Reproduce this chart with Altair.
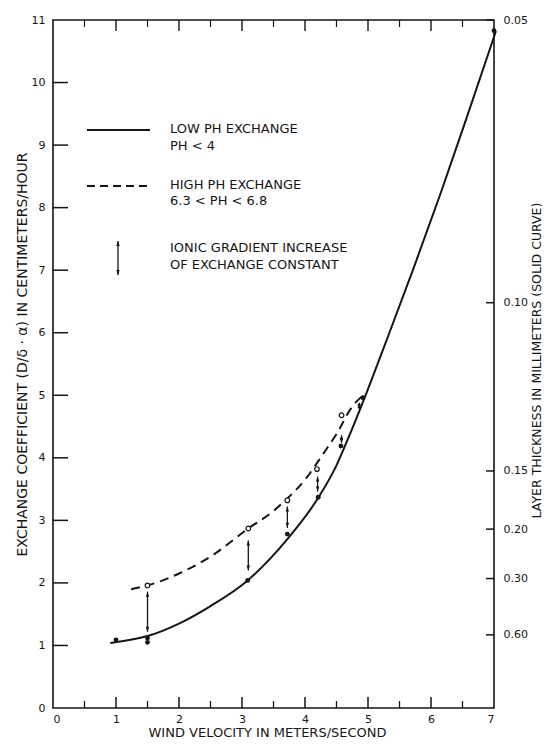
import altair as alt
import pandas as pd

# ---- data ----
# solid curve: low pH exchange
low_curve_x = [0.91, 1.5, 2.0, 2.5, 3.09, 3.72, 4.21, 4.5, 4.73, 5.0, 5.31, 5.73, 6.16, 6.58, 7.03]
low_curve_y = [1.04, 1.15, 1.35, 1.63, 2.04, 2.70, 3.36, 3.88, 4.42, 5.10, 5.92, 7.05, 8.25, 9.48, 10.82]
# filled points (low pH)
low_pts_x = [1.0, 1.5, 1.5, 3.09, 3.72, 4.21, 4.57, 4.92, 7.0]
low_pts_y = [1.09, 1.05, 1.12, 2.04, 2.78, 3.37, 4.19, 4.96, 10.83]
# dashed curve: high pH exchange
high_curve_x = [1.24, 1.5, 2.0, 2.5, 3.1, 3.5, 3.72, 4.0, 4.3, 4.5, 4.75, 4.9]
high_curve_y = [1.90, 1.96, 2.15, 2.42, 2.87, 3.15, 3.35, 3.65, 4.08, 4.38, 4.82, 4.98]
# open points (high pH)
high_pts_x = [1.5, 3.1, 3.72, 4.19, 4.58]
high_pts_y = [1.96, 2.87, 3.32, 3.82, 4.68]
# ionic gradient arrows
arrow_x = [1.5, 3.1, 3.72, 4.2, 4.58, 4.86]
arrow_top = [1.86, 2.68, 3.22, 3.70, 4.36, 4.88]
arrow_bot = [1.22, 2.20, 2.88, 3.46, 4.24, 4.78]

# axes
x_labels = [0, 1, 2, 3, 4, 5, 6, 7]
x_major = [1, 2, 3, 4, 5, 6]
x_minor = [0.5, 1.5, 2.5, 3.5, 4.5, 5.5, 6.5]
y_labels = [0, 1, 2, 3, 4, 5, 6, 7, 8, 9, 10, 11]
y_major = [1, 2, 3, 4, 5, 6, 7, 8, 9, 10]
right_pos = [11.0, 6.48, 3.79, 2.86, 2.07, 1.17]
right_text = ["0.05", "0.10", "0.15", "0.20", "0.30", "0.60"]

W, H = 441, 688
INK = "#151515"
FONT = "DejaVu Sans"

xs = alt.Scale(domain=[0, 7], nice=False, zero=False)
ys = alt.Scale(domain=[0, 11], nice=False, zero=False)

x_axis = alt.Axis(values=x_labels, ticks=False, domain=False, grid=False, labelPadding=5,
                  labelFont=FONT, labelFontSize=11, labelColor=INK,
                  title="WIND  VELOCITY  IN  METERS/SECOND", titleFont=FONT, titleFontSize=13,
                  titleFontWeight="normal", titleColor=INK, titleX=214, titleY=24,
                  titleAnchor="middle", titleAlign="center", titleBaseline="middle")
y_axis = alt.Axis(values=y_labels, ticks=False, domain=False, grid=False, labelPadding=8,
                  labelFont=FONT, labelFontSize=11, labelColor=INK,
                  title="EXCHANGE  COEFFICIENT  (D/δ · α)  IN  CENTIMETERS/HOUR",
                  titleFont=FONT, titleFontSize=14, titleFontWeight="normal", titleColor=INK,
                  titleAngle=270, titleX=-31, titleY=334, titleAlign="center",
                  titleBaseline="middle", titleAnchor="middle")

label_expr = " : ".join(f"datum.value == {p} ? '{t}'" for p, t in zip(right_pos, right_text)) + " : ''"
r_axis = alt.Axis(orient="right", values=right_pos, labelExpr=label_expr, ticks=False, domain=False,
                  grid=False, labelPadding=9, labelFont=FONT, labelFontSize=11, labelColor=INK,
                  title="LAYER  THICKNESS  IN  MILLIMETERS  (SOLID  CURVE)", titleFont=FONT,
                  titleFontSize=12.5, titleFontWeight="normal", titleColor=INK,
                  titleAngle=270, titleX=42, titleY=340, titleAlign="center",
                  titleBaseline="middle", titleAnchor="middle")

X = alt.X("x:Q", scale=xs, axis=x_axis)
Y = alt.Y("y:Q", scale=ys, axis=y_axis)

low_curve = pd.DataFrame({"x": low_curve_x, "y": low_curve_y})
high_curve = pd.DataFrame({"x": high_curve_x, "y": high_curve_y})
low_pts = pd.DataFrame({"x": low_pts_x, "y": low_pts_y})
high_pts = pd.DataFrame({"x": high_pts_x, "y": high_pts_y})
arrows = pd.DataFrame({"x": arrow_x, "y": arrow_top, "y2": arrow_bot})

up_head = "M0,0L0.4,1.2L-0.4,1.2Z"
down_head = "M0,0L0.4,-1.2L-0.4,-1.2Z"

l_low = alt.Chart(low_curve).mark_line(interpolate="monotone", color=INK, strokeWidth=2).encode(x=X, y=Y)
l_high = alt.Chart(high_curve).mark_line(interpolate="monotone", color=INK, strokeWidth=2,
                                         strokeDash=[9, 6]).encode(x=X, y=Y)
p_low = alt.Chart(low_pts).mark_circle(size=24, color=INK, opacity=1).encode(x=X, y=Y)
p_high = alt.Chart(high_pts).mark_point(shape="circle", size=22, filled=False, color=INK,
                                        fill="white", fillOpacity=1, strokeWidth=1.2).encode(x=X, y=Y)
a_shaft = alt.Chart(arrows).mark_rule(color=INK, strokeWidth=1.3).encode(x=X, y=Y, y2="y2:Q")
a_up = alt.Chart(arrows).mark_point(shape=up_head, filled=True, size=70, color=INK, opacity=1).encode(x=X, y=Y)
a_down = alt.Chart(arrows).mark_point(shape=down_head, filled=True, size=70, color=INK, opacity=1).encode(
    x=X, y=alt.Y("y2:Q", scale=ys, axis=y_axis))

# inward ticks
bx_major = alt.Chart(pd.DataFrame({"x": x_major})).mark_rule(color=INK, strokeWidth=1.5).encode(
    x=X, y=alt.value(H), y2=alt.value(H - 11))
bx_minor = alt.Chart(pd.DataFrame({"x": x_minor})).mark_rule(color=INK, strokeWidth=1.3).encode(
    x=X, y=alt.value(H), y2=alt.value(H - 7))
tx_major = alt.Chart(pd.DataFrame({"x": x_major})).mark_rule(color=INK, strokeWidth=1.4).encode(
    x=X, y=alt.value(0), y2=alt.value(11))
tx_minor = alt.Chart(pd.DataFrame({"x": x_minor})).mark_rule(color=INK, strokeWidth=1.2).encode(
    x=X, y=alt.value(0), y2=alt.value(7))
ly_major = alt.Chart(pd.DataFrame({"y": y_major})).mark_rule(color=INK, strokeWidth=1.5).encode(
    y=Y, x=alt.value(0), x2=alt.value(15))

# legend (drawn inside the plot)
one = pd.DataFrame({"k": [0]})
leg_solid = alt.Chart(one).mark_rule(color=INK, strokeWidth=2).encode(
    x=alt.value(34), x2=alt.value(97), y=alt.value(110))
leg_dash = alt.Chart(one).mark_rule(color=INK, strokeWidth=2, strokeDash=[8, 5]).encode(
    x=alt.value(34), x2=alt.value(97), y=alt.value(166))
leg_arrow = alt.Chart(one).mark_rule(color=INK, strokeWidth=1.3).encode(
    x=alt.value(65), y=alt.value(221), y2=alt.value(255))
leg_up = alt.Chart(one).mark_point(shape=up_head, filled=True, size=70, color=INK, opacity=1).encode(
    x=alt.value(65), y=alt.value(221))
leg_down = alt.Chart(one).mark_point(shape=down_head, filled=True, size=70, color=INK, opacity=1).encode(
    x=alt.value(65), y=alt.value(255))
leg_lines = [("LOW  PH  EXCHANGE", 109), ("PH  <  4", 126), ("HIGH  PH  EXCHANGE", 165),
             ("6.3  <  PH  <  6.8", 181), ("IONIC  GRADIENT  INCREASE", 228),
             ("OF  EXCHANGE   CONSTANT", 245)]
leg_texts = [alt.Chart(one).mark_text(text=t, align="left", baseline="middle", font=FONT, fontSize=13,
                                      color=INK).encode(x=alt.value(117), y=alt.value(yy))
             for t, yy in leg_lines]

main = alt.layer(l_low, l_high, a_shaft, a_up, a_down, p_low, p_high,
                 bx_major, bx_minor, tx_major, tx_minor, ly_major,
                 leg_solid, leg_dash, leg_arrow, leg_up, leg_down, *leg_texts)

right = alt.Chart(pd.DataFrame({"y": right_pos})).mark_rule(color=INK, strokeWidth=1.5).encode(
    y=alt.Y("y:Q", scale=ys, axis=r_axis), x=alt.value(W), x2=alt.value(W - 8))

chart = alt.layer(main, right).resolve_scale(y="independent").properties(
    width=W, height=H,
    autosize=alt.AutoSizeParams(type="none"),
    padding={"left": 45, "top": 12, "right": 49, "bottom": 30},
    background="white",
).configure_view(stroke=INK, strokeWidth=1.6)

chart.save("out.html", embed_options={"renderer": "svg", "actions": False})
